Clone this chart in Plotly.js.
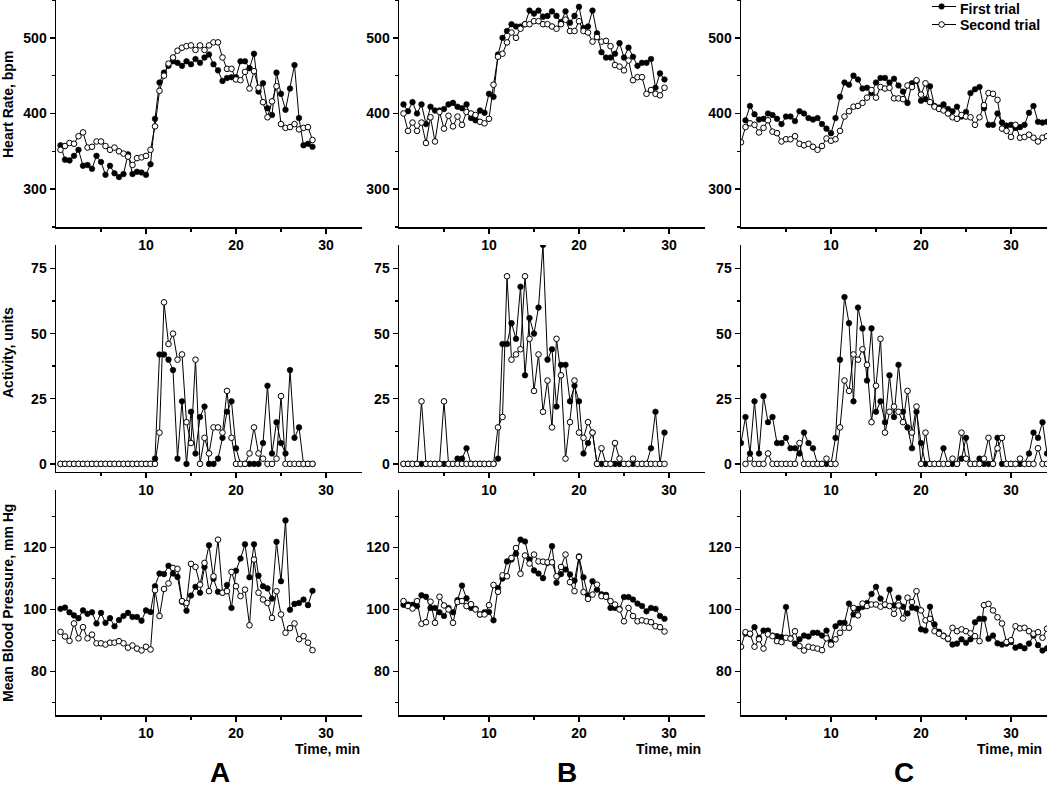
<!DOCTYPE html>
<html>
<head>
<meta charset="utf-8">
<script src="https://cdn.plot.ly/plotly-3.0.1.min.js"></script>
<style>html,body{margin:0;padding:0;background:#fff;}#chart{width:1050px;height:789px;}</style>
</head>
<body>
<div id="chart"></div>
<script>
// ---------- time (min) ----------
const timeA = [0.5,1,1.5,2,2.5,3,3.5,4,4.5,5,5.5,6,6.5,7,7.5,8,8.5,9,9.5,10,10.5,11,11.5,12,12.5,13,13.5,14,14.5,15,15.5,16,16.5,17,17.5,18,18.5,19,19.5,20,20.5,21,21.5,22,22.5,23,23.5,24,24.5,25,25.5,26,26.5,27,27.5,28,28.5];
const timeB = [0.5,1,1.5,2,2.5,3,3.5,4,4.5,5,5.5,6,6.5,7,7.5,8,8.5,9,9.5,10,10.5,11,11.5,12,12.5,13,13.5,14,14.5,15,15.5,16,16.5,17,17.5,18,18.5,19,19.5,20,20.5,21,21.5,22,22.5,23,23.5,24,24.5,25,25.5,26,26.5,27,27.5,28,28.5,29,29.5];
const timeC = [0,0.5,1,1.5,2,2.5,3,3.5,4,4.5,5,5.5,6,6.5,7,7.5,8,8.5,9,9.5,10,10.5,11,11.5,12,12.5,13,13.5,14,14.5,15,15.5,16,16.5,17,17.5,18,18.5,19,19.5,20,20.5,21,21.5,22,22.5,23,23.5,24,24.5,25,25.5,26,26.5,27,27.5,28,28.5,29,29.5,30,30.5,31,31.5,32,32.5,33,33.5,34];

// ---------- Heart rate, bpm ----------
const hrA_first = [358,339,338,344,352,331,332,327,344,336,319,331,321,316,320,346,320,323,322,319,333,393,441,454,463,469,467,463,469,465,472,467,474,478,465,457,443,447,448,448,469,469,460,479,429,440,407,398,454,426,405,433,464,394,358,360,356];
const hrA_second = [352,357,361,360,370,375,355,356,363,363,357,352,355,350,347,343,332,341,342,344,352,383,430,450,466,474,483,487,489,490,484,490,484,490,494,494,474,459,459,445,444,455,433,456,434,415,395,416,436,386,381,382,386,379,381,382,365];
const hrB_first = [412,403,415,400,412,386,409,404,404,406,412,414,409,407,412,394,391,404,401,426,422,478,500,509,518,515,515,518,536,532,536,528,529,535,529,521,535,520,529,541,513,515,536,506,481,474,474,479,493,474,487,475,463,467,467,472,434,453,445];
const hrB_second = [400,377,388,377,388,361,395,363,402,380,397,383,396,385,402,400,398,389,387,393,438,475,479,494,507,500,512,518,518,522,522,518,518,515,512,518,524,509,509,522,509,507,495,501,495,496,489,464,462,457,470,444,448,448,426,431,426,424,434];
const hrC_first = [null,391,410,399,392,393,400,398,393,386,396,396,390,403,400,394,392,394,386,380,374,394,422,441,438,450,445,433,434,427,441,447,447,441,446,437,429,414,440,443,417,419,436,410,408,412,406,403,409,396,402,427,432,435,407,385,385,400,388,384,385,381,382,385,401,410,389,388,389];
const hrC_second = [362,382,387,385,375,381,391,376,374,363,366,366,370,360,358,360,356,352,357,367,364,366,377,396,403,409,410,414,421,431,421,435,433,434,420,420,419,437,435,444,425,440,415,409,406,404,400,395,393,398,396,395,385,395,411,427,426,418,380,377,369,385,368,369,372,368,363,368,370];

// ---------- Activity, units ----------
const actA_first = [0,0,0,0,0,0,0,0,0,0,0,0,0,0,0,0,0,0,0,0,0,2,42,42,40,36,2,24,0,20,4,18,22,0,0,2,10,20,24,6,0,0,0,0,0,8,30,4,16,8,4,36,10,14,0,0,0];
const actA_second = [0,0,0,0,0,0,0,0,0,0,0,0,0,0,0,0,0,0,0,0,0,0,12,62,46,50,40,42,16,8,40,0,10,4,14,14,12,28,10,0,0,0,4,14,4,2,0,0,2,26,0,0,0,0,0,0,0];
const actB_first = [0,0,0,0,0,0,0,0,0,0,0,0,2,2,6,0,0,0,0,0,0,2,46,46,54,48,68,34,56,50,60,84,40,44,22,38,38,24,30,24,4,8,12,0,0,0,0,0,0,0,0,0,0,0,0,6,20,0,12];
const actB_second = [0,0,0,0,24,0,0,0,0,24,0,0,0,0,0,0,0,0,0,0,0,14,18,72,40,42,44,72,48,28,42,20,32,14,48,34,2,16,32,12,10,16,12,0,6,0,0,8,2,0,0,2,0,0,0,0,0,0,0];
const actC_first = [8,18,4,24,4,26,16,18,8,8,10,6,6,4,12,8,6,0,0,0,0,10,40,64,54,24,60,52,32,52,20,24,16,34,18,38,20,14,6,20,8,0,0,0,0,6,0,0,0,2,10,0,0,2,0,0,0,10,0,0,0,0,0,0,4,12,10,16,4];
const actC_second = [null,0,2,0,0,0,4,0,0,0,0,0,0,8,0,0,0,0,0,2,0,0,14,32,28,42,40,44,38,16,30,48,12,20,22,20,16,28,12,22,0,12,0,0,0,0,0,2,0,12,2,0,0,0,2,10,0,6,10,0,0,0,2,0,0,0,6,0,0];

// ---------- Mean blood pressure, mm Hg ----------
const bpA_first = [100.2,100.6,99.1,98.1,97.2,99.7,98.6,99.1,95.5,98.9,95.7,97.2,94.6,96.6,97.9,98.9,97.6,97.6,96.4,99.7,99.2,107.5,111.6,111.4,114.1,111.6,110.5,102.5,99.6,104.5,107.3,105.4,113.7,120.7,109.9,105.7,105.4,107.9,100.5,112.5,116.4,121.0,110.4,121.0,110.9,107.5,106.8,103.5,121.8,109.1,128.7,99.9,101.8,102.1,103.2,101.4,106.0];
const bpA_second = [92.8,91.3,89.9,95.5,90.7,94.3,90.7,91.9,89.1,89.1,88.7,89.3,89.3,89.8,89.1,87.7,88.4,87.4,86.8,88.0,87.1,106.2,97.9,106.6,108.4,113.4,113.1,102.7,102.1,114.7,113.7,108.0,115.0,105.9,110.7,122.5,105.4,105.9,112.1,107.5,104.3,106.4,94.9,116.1,105.4,103.2,102.1,97.3,105.9,98.4,92.5,94.0,95.5,90.4,91.4,89.3,86.9];
const bpB_first = [101.5,101.6,101.5,101.1,104.6,104.1,100.5,100.5,99.1,97.9,100.5,99.1,103.0,107.7,103.6,100.5,100.2,98.4,99.1,99.2,96.5,106.9,110.0,115.5,116.1,118.0,122.5,121.9,116.1,112.6,111.6,110.1,115.0,120.4,108.6,111.4,112.9,111.3,109.3,117.1,110.4,104.5,109.1,106.4,104.9,104.7,100.5,100.5,100.2,104.0,104.0,103.2,101.9,101.1,99.4,100.5,100.2,97.9,97.0];
const bpB_second = [102.7,101.1,100.3,102.7,95.4,95.9,102.5,95.7,104.1,101.3,100.0,95.7,102.4,102.7,101.1,101.7,100.0,98.4,98.4,101.4,107.9,105.7,111.0,110.7,116.6,119.8,111.5,117.4,114.8,117.7,115.5,115.4,115.2,115.2,110.7,113.7,117.7,108.8,105.9,116.9,105.6,103.4,104.8,108.0,104.3,104.1,102.7,101.6,100.0,96.2,100.5,97.9,96.2,96.5,96.2,95.9,94.6,94.3,92.9];
const bpC_first = [null,92.3,92.0,94.3,90.9,93.2,93.2,91.6,91.4,91.1,100.8,90.7,89.0,90.4,91.6,91.3,92.5,92.5,91.6,93.2,89.5,94.6,95.7,95.7,101.9,98.4,100.2,100.8,102.1,105.0,107.3,103.5,101.4,106.4,101.3,103.8,100.9,98.7,100.6,100.3,93.6,93.2,100.9,95.2,92.8,91.6,90.4,88.7,89.0,90.4,89.3,90.4,95.9,97.0,97.0,90.6,91.6,89.1,88.7,89.0,89.5,87.7,88.2,87.5,89.0,91.6,88.5,86.8,87.5];
const bpC_second = [88,92.7,92.2,88.0,90.4,87.4,92.0,91.4,89.8,89.5,90.9,90.6,93.0,88.2,86.8,88.0,87.7,87.4,86.9,90.7,88.7,90.4,92.5,94.1,94.1,100.5,98.1,101.9,101.1,101.6,101.6,100.9,101.6,101.1,98.6,101.3,97.1,103.8,102.4,105.9,99.7,96.5,97.0,93.0,92.2,91.4,90.6,94.1,93.0,93.6,93.0,92.3,91.4,89.8,101.4,101.8,99.7,97.5,95.5,89.5,90.1,94.6,93.9,94.1,93.0,92.2,92.7,90.9,93.8];

// ---------- labels ----------
const seriesNames = ['First trial', 'Second trial'];
const rowTitles = ['Heart Rate, bpm', 'Activity, units', 'Mean Blood Pressure, mm Hg'];
const panelLetters = ['A', 'B', 'C'];
const xTickVals = [10, 20, 30];
const yTickVals = [[300, 400, 500], [0, 25, 50, 75], [80, 100, 120]];

// ---------- build ----------
const W = 1050, H = 789;
const FONT = 'Liberation Sans, Arial, Helvetica, sans-serif';
const colPx = [[56, 362], [399, 705], [741, 1047]];
const rowPx = [[0, 227], [245, 471.7], [490, 715]];
const yRanges = [[250, 550], [-3, 84], [66, 138.5]];
const yMinor = [[250, 100], [12.5, 25], [70, 20]];
const MS = 5.6;

const times = [timeA, timeB, timeC];
const data = [
  [[hrA_first, hrA_second], [hrB_first, hrB_second], [hrC_first, hrC_second]],
  [[actA_first, actA_second], [actB_first, actB_second], [actC_first, actC_second]],
  [[bpA_first, bpA_second], [bpB_first, bpB_second], [bpC_first, bpC_second]]
];

const boldFont = (s) => ({family: FONT, size: s, color: '#000', weight: 'bold'});
const firstStyle = {line: {color: '#000', width: 1}, marker: {symbol: 'circle', size: MS, color: '#000', line: {color: '#000', width: 0.6}}};
const secondStyle = {line: {color: '#000', width: 1}, marker: {symbol: 'circle', size: MS, color: '#fff', line: {color: '#000', width: 1}}};

const traces = [];
const layout = {
  width: W, height: H,
  margin: {l: 0, r: 0, t: 0, b: 0, autoexpand: false},
  paper_bgcolor: '#fff', plot_bgcolor: '#fff',
  showlegend: false,
  annotations: [],
  font: {family: FONT, color: '#000'}
};

for (let r = 0; r < 3; r++) {
  for (let c = 0; c < 3; c++) {
    const idx = r * 3 + c + 1;
    const xs = idx === 1 ? '' : String(idx);
    layout['xaxis' + xs] = {
      domain: [colPx[c][0] / W, colPx[c][1] / W],
      range: [0, 34], anchor: 'y' + xs,
      showline: true, linecolor: '#000', linewidth: 1.5, mirror: false,
      showgrid: false, zeroline: false,
      ticks: 'outside', ticklen: 5, tickwidth: 1.5, tickcolor: '#000',
      tickmode: 'array', tickvals: xTickVals, tickfont: boldFont(14),
      minor: {ticks: 'outside', ticklen: 3, tickwidth: 1.5, tickcolor: '#000', tick0: 5, dtick: 10, showgrid: false}
    };
    layout['yaxis' + xs] = {
      domain: [1 - rowPx[r][1] / H, 1 - rowPx[r][0] / H],
      range: yRanges[r], anchor: 'x' + xs,
      showline: true, linecolor: '#000', linewidth: 1.5, mirror: false,
      showgrid: false, zeroline: false,
      ticks: 'outside', ticklen: 5, tickwidth: 1.5, tickcolor: '#000',
      tickmode: 'array', tickvals: yTickVals[r], tickfont: boldFont(14),
      minor: {ticks: 'outside', ticklen: 3, tickwidth: 1.5, tickcolor: '#000', tick0: yMinor[r][0], dtick: yMinor[r][1], showgrid: false}
    };
    const pair = data[r][c];
    traces.push(Object.assign({
      x: times[c], y: pair[0], type: 'scatter', mode: 'lines+markers', name: seriesNames[0],
      xaxis: 'x' + xs, yaxis: 'y' + xs, connectgaps: false
    }, firstStyle));
    traces.push(Object.assign({
      x: times[c], y: pair[1], type: 'scatter', mode: 'lines+markers', name: seriesNames[1],
      xaxis: 'x' + xs, yaxis: 'y' + xs, connectgaps: false
    }, secondStyle));
  }
}

// ---------- legend (top-right of panel C) drawn on a hidden key axis ----------
layout.xaxis10 = {domain: [932 / W, 956 / W], range: [0, 1], visible: false, fixedrange: true, anchor: 'y10'};
layout.yaxis10 = {domain: [1 - 32 / H, 1], range: [32, 0], visible: false, fixedrange: true, anchor: 'x10'};
const keyRows = [6.5, 24.5];
const keyStyles = [firstStyle, secondStyle];
for (let i = 0; i < 2; i++) {
  traces.push({x: [0, 1], y: [keyRows[i], keyRows[i]], type: 'scatter', mode: 'lines', xaxis: 'x10', yaxis: 'y10',
               line: keyStyles[i].line, hoverinfo: 'skip', cliponaxis: false});
  traces.push({x: [0.4], y: [keyRows[i]], type: 'scatter', mode: 'markers', xaxis: 'x10', yaxis: 'y10',
               marker: keyStyles[i].marker, hoverinfo: 'skip', cliponaxis: false});
}
layout.annotations.push({xref: 'paper', yref: 'paper', x: 959 / W, y: 1, xanchor: 'left', yanchor: 'top',
  text: seriesNames[0], showarrow: false, font: boldFont(14), borderpad: 0});
layout.annotations.push({xref: 'paper', yref: 'paper', x: 959 / W, y: 1 - 25 / H, xanchor: 'left', yanchor: 'middle',
  text: seriesNames[1], showarrow: false, font: boldFont(14), borderpad: 0});

// row titles
const titleY = [105, 353, 603];
for (let r = 0; r < 3; r++) {
  layout.annotations.push({
    xref: 'paper', yref: 'paper', x: 8 / W, y: 1 - titleY[r] / H,
    text: rowTitles[r], textangle: -90, showarrow: false,
    xanchor: 'center', yanchor: 'middle', font: boldFont(14)
  });
}
// x axis titles and panel letters
const timeRight = [361, 702, 1043];
const letterX = [220, 567, 904];
for (let c = 0; c < 3; c++) {
  layout.annotations.push({
    xref: 'paper', yref: 'paper', x: timeRight[c] / W, y: 1 - 749 / H,
    text: 'Time, min', showarrow: false, xanchor: 'right', yanchor: 'middle',
    font: boldFont(14), borderpad: 0
  });
  layout.annotations.push({
    xref: 'paper', yref: 'paper', x: letterX[c] / W, y: 0,
    text: panelLetters[c], showarrow: false, xanchor: 'center', yanchor: 'bottom',
    font: boldFont(28), borderpad: 0
  });
}

Plotly.newPlot('chart', traces, layout, {displayModeBar: false, staticPlot: true});
</script>
</body>
</html>
